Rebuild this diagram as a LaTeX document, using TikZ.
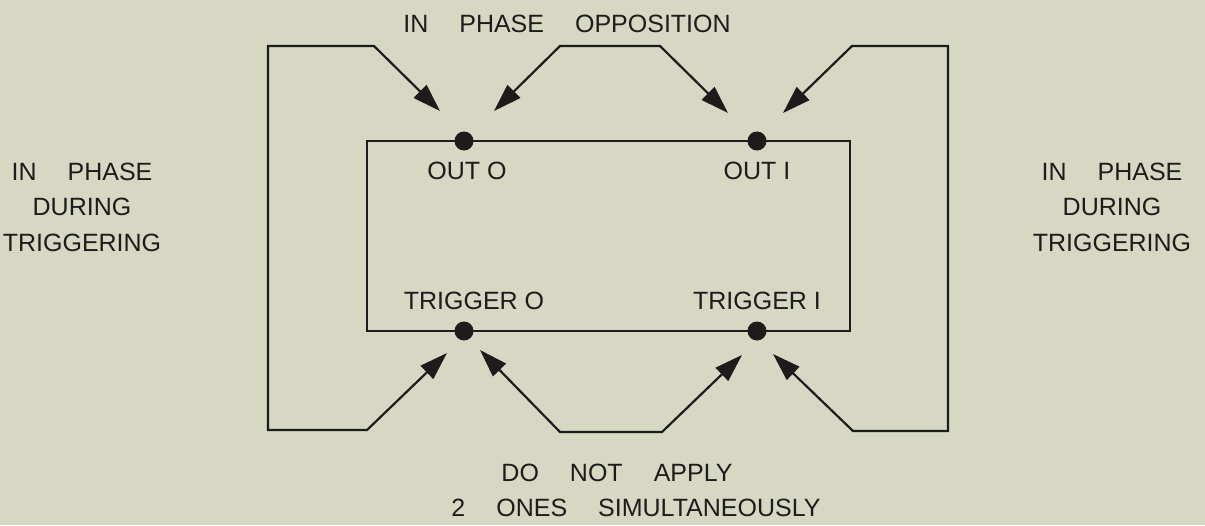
\documentclass[tikz,border=0pt]{standalone}
\usepackage{fontspec}
\setmainfont{Liberation Sans}
\usetikzlibrary{arrows.meta}
\definecolor{paper}{RGB}{214,216,196}
\definecolor{ink}{RGB}{30,28,26}
\newcommand{\wsp}{\hspace{31pt}}
\tikzset{
  wire/.style={draw=ink, line width=2.2pt, line join=miter},
  twoarrow/.style={wire, {Triangle[length=28pt,width=18pt]}-{Triangle[length=28pt,width=18pt]}},
  pin/.style={circle, fill=ink, minimum size=19pt, inner sep=0pt},
  lbl/.style={text=ink, font=\fontsize{25}{35.5}\selectfont, inner sep=0pt},
  side/.style={lbl, align=center}
}
\begin{document}
\begin{tikzpicture}[x=1pt,y=-1pt]
\useasboundingbox[fill=paper] (0,0) rectangle (1205,525);
% main box
\draw[wire] (367,141) rectangle (850,331);
\node[pin] (o0) at (464,141) {};
\node[pin] (o1) at (757,141) {};
\node[pin] (t0) at (464,331) {};
\node[pin] (t1) at (757,331) {};
% labels inside box
\node[lbl] (lo0) at (467,171) {OUT O};
\node[lbl] (lo1) at (757,171) {OUT I};
\node[lbl] (lt0) at (474,301) {TRIGGER O};
\node[lbl] (lt1) at (757,301) {TRIGGER I};
% coordinates of the loops
\coordinate (a1) at (440,111);
\coordinate (c1) at (374,46);
\coordinate (c2) at (268,46);
\coordinate (c3) at (268,430);
\coordinate (c4) at (367,430);
\coordinate (a2) at (447,353);
\coordinate (a3) at (494,111);
\coordinate (c5) at (560,46);
\coordinate (c6) at (660,46);
\coordinate (a4) at (728,113);
\coordinate (a5) at (783,113);
\coordinate (c7) at (852,46);
\coordinate (c8) at (948,46);
\coordinate (c9) at (948,431);
\coordinate (c10) at (853,431);
\coordinate (a6) at (773,354);
\coordinate (a7) at (480,350);
\coordinate (c11) at (560,432);
\coordinate (c12) at (662,432);
\coordinate (a8) at (742,355);
% loops
\draw[twoarrow] (a1) -- (c1) -- (c2) -- (c3) -- (c4) -- (a2);
\draw[twoarrow] (a3) -- (c5) -- (c6) -- (a4);
\draw[twoarrow] (a5) -- (c7) -- (c8) -- (c9) -- (c10) -- (a6);
\draw[twoarrow] (a7) -- (c11) -- (c12) -- (a8);
% outside labels
\node[lbl] (top) at (567,24) {IN\wsp PHASE\wsp OPPOSITION};
\node[side] (left) at (82,207) {IN\wsp PHASE\\ DURING\\ TRIGGERING};
\node[side] (right) at (1112,207) {IN\wsp PHASE\\ DURING\\ TRIGGERING};
\node[lbl] (b1) at (617,473) {DO\wsp NOT\wsp APPLY};
\node[lbl] (b2) at (636,508) {2\wsp ONES\wsp SIMULTANEOUSLY};
\end{tikzpicture}
\end{document}
